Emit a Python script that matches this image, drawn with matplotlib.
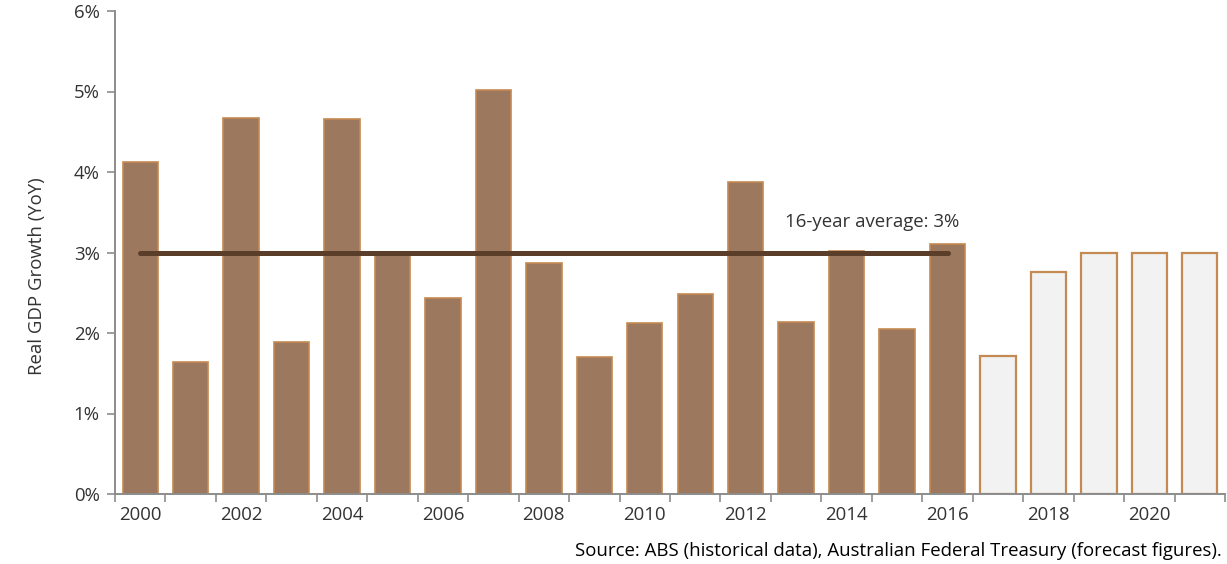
import matplotlib.pyplot as plt
import numpy as np
from matplotlib.ticker import FixedLocator, PercentFormatter

years = list(range(2000, 2022))
historical = [4.13, 1.64, 4.67, 1.89, 4.66, 3.00, 2.44, 5.02, 2.87, 1.70, 2.12,
              2.49, 3.88, 2.14, 3.02, 2.05, 3.11]
forecast = [1.71, 2.76, 3.00, 3.00, 3.00]
average = 3.0
avg_years = (2000, 2016)

plt.rcParams["font.family"] = ["Open Sans", "DejaVu Sans"]
text_color = "#333333"
axis_color = "#8c8c8c"
fs = 13.4

fig = plt.figure(figsize=(12.27, 5.64), dpi=100)
ax = fig.add_axes([115 / 1227, 1 - 494 / 564, 1110 / 1227, 483 / 564])

x = np.arange(len(years))
n_hist = len(historical)
ax.bar(x[:n_hist], historical, width=0.7, color="#9c785e", edgecolor="#c48a52",
       linewidth=1.2, zorder=2)
ax.bar(x[n_hist:], forecast, width=0.7, color="#f2f2f2", edgecolor="#c48a52",
       linewidth=1.6, zorder=2)

x0 = years.index(avg_years[0])
x1 = years.index(avg_years[1])
ax.plot([x0, x1], [average, average], color="#5a3e29", linewidth=3.6,
        solid_capstyle="round", zorder=3)
ax.text(12.77, 3.38, "16-year average: 3%", fontsize=fs, color=text_color,
        va="center", ha="left")

ax.set_xlim(-0.5, len(years) - 0.5)
ax.set_ylim(0, 6)
ax.yaxis.set_major_formatter(PercentFormatter(decimals=0))
ax.set_yticks(range(0, 7))

ax.set_xticks(x[::2])
ax.set_xticklabels([str(y) for y in years[::2]])
ax.xaxis.set_minor_locator(FixedLocator(np.arange(-0.5, len(years), 1.0)))
ax.tick_params(axis="x", which="major", length=0, pad=9, labelsize=fs,
               colors=text_color)
ax.tick_params(axis="x", which="minor", length=6, width=1.2, color=axis_color,
               direction="out")
ax.tick_params(axis="y", length=6, width=1.2, color=axis_color, labelsize=fs,
               labelcolor=text_color, pad=5)

for side in ("top", "right"):
    ax.spines[side].set_visible(False)
for side in ("left", "bottom"):
    ax.spines[side].set_color(axis_color)
    ax.spines[side].set_linewidth(1.4)

ax.set_ylabel("Real GDP Growth (YoY)", fontsize=fs, color=text_color)
ax.yaxis.set_label_coords(-0.062, 0.451)

fig.text(1222 / 1227, 1 - 551 / 564,
         "Source: ABS (historical data), Australian Federal Treasury (forecast figures).",
         ha="right", va="center", fontsize=fs, color="black")

fig.savefig("out.png", dpi=100)
